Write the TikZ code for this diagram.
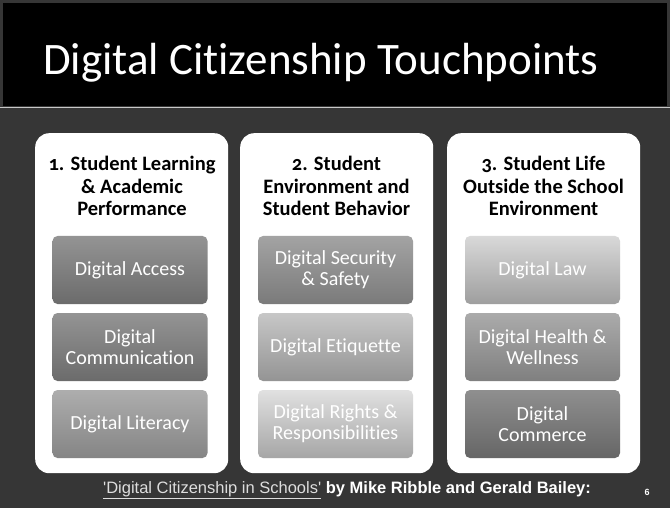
\documentclass[tikz,border=0pt]{standalone}
\usepackage{fontspec}
\setmainfont{Carlito}[Ligatures=NoCommon]
\newfontfamily\arialfont{Liberation Sans}
\definecolor{bgdark}{HTML}{363636}
\definecolor{rulegray}{HTML}{C8C8C8}
\definecolor{footgray}{HTML}{DDDDDD}
\begin{document}
\begin{tikzpicture}[x=1pt,y=-1pt,
  panel/.style={fill=white, rounded corners=14pt, minimum width=193pt, minimum height=340pt, anchor=north west, inner sep=0pt},
  head/.style={font=\bfseries\fontsize{20.5}{22.5}\selectfont\addfontfeatures{Numbers=OldStyle}, align=center, text=black, inner sep=0pt},
  item/.style={rounded corners=5pt, minimum width=155pt, minimum height=68pt, align=center, text=white, font=\fontsize{20}{21}\selectfont, inner sep=0pt},
]
\useasboundingbox (0,0) rectangle (670,508);
% background
\fill[bgdark] (0,0) rectangle (670,508);
\fill[black] (3,3) rectangle (667,106);
\draw[rulegray, line width=1.5pt] (0,107.5) -- (670,107.5);
\node[anchor=base west, font=\fontsize{45}{50}\selectfont, text=white, inner sep=0pt] (title) at (43,75) {Digital Citizenship Touchpoints};
% panels
\node[panel] (p1) at (35,133) {};
\node[panel] (p2) at (240,133) {};
\node[panel] (p3) at (447,133) {};
% headings
\node[head] (h1) at (132,186) {1. Student Learning\\ \& Academic\\ Performance};
\node[head] (h2) at (336.5,186) {2. Student\\ Environment and\\ Student Behavior};
\node[head] (h3) at (543.5,186) {3. Student Life\\ Outside the School\\ Environment};
% items
\node[item, top color=black!42, bottom color=black!58] (a1) at (130,270) {Digital Access};
\node[item, top color=black!42, bottom color=black!58] (a2) at (130,347) {Digital\\ Communication};
\node[item, top color=black!32, bottom color=black!48] (a3) at (130,424) {Digital Literacy};
\node[item, top color=black!36, bottom color=black!52] (b1) at (335.5,270) {Digital Security\\ \& Safety};
\node[item, top color=black!22, bottom color=black!42] (b2) at (335.5,347) {Digital Etiquette};
\node[item, top color=black!12, bottom color=black!35] (b3) at (335.5,424) {Digital Rights \&\\ Responsibilities};
\node[item, top color=black!15, bottom color=black!38] (c1) at (542.5,270) {Digital Law};
\node[item, top color=black!33, bottom color=black!50] (c2) at (542.5,347) {Digital Health \&\\ Wellness};
\node[item, top color=black!44, bottom color=black!60] (c3) at (542.5,424) {Digital\\ Commerce};
% footer
\node[font=\arialfont\fontsize{16.5}{18}\selectfont, text=white, anchor=base, inner sep=0pt] (foot) at (347,493) {\textcolor{footgray}{\underline{'Digital Citizenship in Schools'}}\textbf{ by Mike Ribble and Gerald Bailey:}};
\node[font=\arialfont\bfseries\fontsize{9}{10}\selectfont, text=white, anchor=base, inner sep=0pt] (pnum) at (647,495) {6};
\end{tikzpicture}
\end{document}
